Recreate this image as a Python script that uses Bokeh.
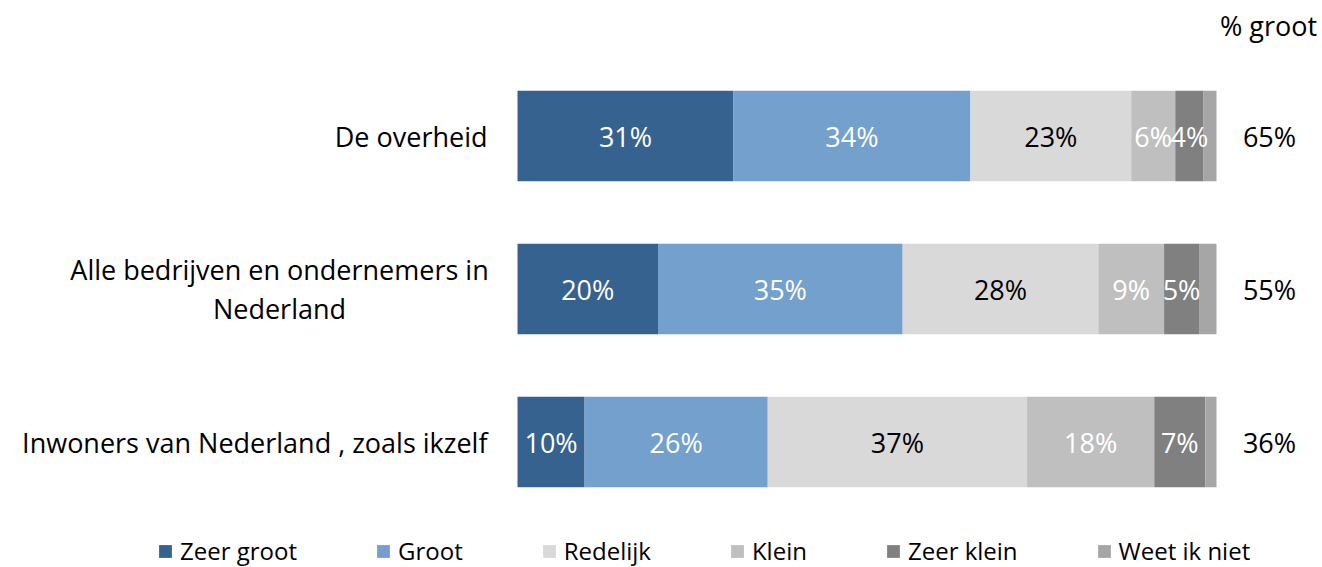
from bokeh.plotting import figure
from bokeh.models import ColumnDataSource, Range1d
from bokeh.core.properties import value
from bokeh.embed import file_html
from bokeh.resources import INLINE

# ---- data ----
categories = ["De overheid",
              "Alle bedrijven en ondernemers in\nNederland",
              "Inwoners van Nederland , zoals ikzelf"]
series = ["Zeer groot", "Groot", "Redelijk", "Klein", "Zeer klein", "Weet ik niet"]
zeer_groot = [30.9, 20.1, 9.6]
groot = [33.9, 35.0, 26.2]
redelijk = [23.0, 28.0, 37.1]
klein = [6.3, 9.4, 18.2]
zeer_klein = [4.05, 5.0, 7.3]
weet_ik_niet = [1.85, 2.5, 1.6]
pct_groot = [65, 55, 36]
header = "% groot"

# ---- styles ----
colors = ["#35628F", "#74A0CD", "#D9D9D9", "#BFBFBF", "#808080", "#A6A6A6"]
label_colors = ["white", "white", "black", "white", "white", None]
FONT = "Open Sans"
BIG = "27px"

W, H = 1322, 567
px_per_unit = 6.99
left_px, right_px = 517, 106
row_px = 153
first_row_px = 135.5

values = [zeer_groot, groot, redelijk, klein, zeer_klein, weet_ik_niet]
ys = list(range(len(categories)))

p = figure(width=W, height=H, output_backend="svg", toolbar_location=None,
           x_axis_type=None, y_axis_type=None, min_border=0,
           outline_line_color=None,
           x_range=Range1d(-left_px / px_per_unit, 100 + right_px / px_per_unit),
           y_range=Range1d(len(categories) - 1 + (H - first_row_px - (len(categories) - 1) * row_px) / row_px,
                           -first_row_px / row_px))
p.grid.visible = False
p.background_fill_color = "white"
p.border_fill_color = "white"

data = {"y": ys}
for s, v in zip(series, values):
    data[s] = v
src = ColumnDataSource(data)
p.hbar_stack(series, y="y", height=0.59, color=colors, line_color=None,
             source=src, legend_label=series)

# segment labels
lx, ly, lt, lc = [], [], [], []
for i in range(len(categories)):
    cum = 0.0
    for s, v, c in zip(series, values, label_colors):
        val = v[i]
        if c is not None:
            lx.append(cum + val / 2)
            ly.append(i)
            lt.append(f"{round(val)}%")
            lc.append(c)
        cum += val
p.text(x="x", y="y", text="t", text_color="c",
       source=ColumnDataSource(dict(x=lx, y=ly, t=lt, c=lc)),
       text_align="center", text_baseline="middle",
       text_font=value(FONT), text_font_size=BIG)

# category labels
multi = ["\n" in c for c in categories]
p.text(x=[0] * len(categories), y=ys, text=categories,
       x_offset=[-30 - 208 if m else -30 for m in multi],
       text_align=["center" if m else "right" for m in multi],
       text_baseline="middle", text_color="black",
       text_font=value(FONT), text_font_size=BIG, text_line_height=1.07)

# % groot column
p.text(x=[100] * len(categories), y=ys, text=[f"{v}%" for v in pct_groot],
       x_offset=53, text_align="center", text_baseline="middle",
       text_color="black", text_font=value(FONT), text_font_size=BIG)
p.text(x=[100], y=[(-first_row_px + 25) / row_px], text=[header],
       x_offset=52, text_align="center", text_baseline="middle",
       text_color="black", text_font=value(FONT), text_font_size=BIG)

lg = p.legend[0]
lg.orientation = "horizontal"
lg.location = (157, 0)
lg.padding = 0
lg.margin = 0
lg.spacing = 78
lg.glyph_width = 16
lg.glyph_height = 16
lg.label_standoff = 7
lg.label_text_font = FONT
lg.label_text_font_size = "24px"
lg.label_text_color = "black"
lg.border_line_color = None
lg.background_fill_alpha = 0

open("out.html", "w").write(file_html(p, INLINE))
